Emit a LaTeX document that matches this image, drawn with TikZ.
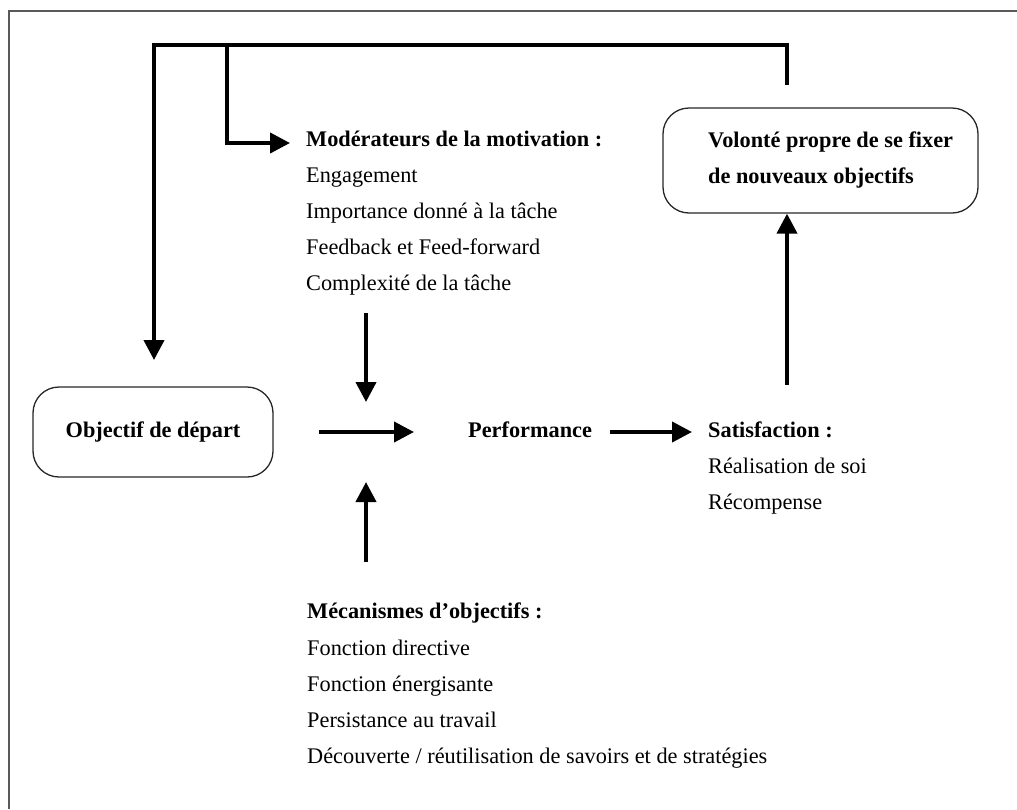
\documentclass[tikz,border=0pt]{standalone}
\usepackage{fontspec}
\setmainfont{Liberation Serif}
\usetikzlibrary{arrows.meta}
\begin{document}
\begin{tikzpicture}[x=1pt,y=-1pt,
  arr/.style={line width=4pt,-{Triangle[length=20pt,width=20pt]}},
  roundbox/.style={draw=black!85,line width=1.3pt,rounded corners=26pt},
  txt/.style={anchor=base west,inner sep=0pt,font=\fontsize{22.3}{36}\selectfont},
  hd/.style={anchor=base west,inner sep=0pt,font=\bfseries\fontsize{22.3}{36}\selectfont}]
\useasboundingbox (0,0) rectangle (1017,809);
% frame
\draw[black!65,line width=1.6pt] (9,809) -- (9,11) -- (1017,11);

% boxes
\node[roundbox,minimum width=240pt,minimum height=90pt,font=\bfseries\fontsize{22.3}{36}\selectfont] (obj) at (153,432) {Objectif de départ};
\node[roundbox,minimum width=315pt,minimum height=105pt] (vol) at (820.5,160.5) {};
\node[hd] (vol1) at (708,147) {Volonté propre de se fixer};
\node[hd] (vol2) at (708,183) {de nouveaux objectifs};

% moderators
\node[hd] (mod0) at (306,146) {Modérateurs de la motivation :};
\node[txt] (mod1) at (306,182) {Engagement};
\node[txt] (mod2) at (306,218) {Importance donné à la tâche};
\node[txt] (mod3) at (306,254) {Feedback et Feed-forward};
\node[txt] (mod4) at (306,290) {Complexité de la tâche};

% performance
\node[hd] (perf) at (468,437) {Performance};

% satisfaction
\node[hd] (sat0) at (708,437) {Satisfaction :};
\node[txt] (sat1) at (708,473) {Réalisation de soi};
\node[txt] (sat2) at (708,509) {Récompense};

% mechanisms
\node[hd] (mec0) at (307,618) {Mécanismes d’objectifs :};
\node[txt] (mec1) at (307,655) {Fonction directive};
\node[txt] (mec2) at (307,691) {Fonction énergisante};
\node[txt] (mec3) at (307,727) {Persistance au travail};
\node[txt] (mec4) at (307,763) {Découverte / réutilisation de savoirs et de stratégies};

% coordinates for connector ends
\coordinate (fbstart) at (787,85);
\coordinate (fbright) at (787,45);
\coordinate (fbleft) at (154,45);
\coordinate (fbend) at (154,360);
\coordinate (brtop) at (227,45);
\coordinate (brcorner) at (227,143);
\coordinate (brend) at (290,143);
\coordinate (moddown1) at (366,313);
\coordinate (moddown2) at (366,402);
\coordinate (mecup1) at (366,562);
\coordinate (mecup2) at (366,482);
\coordinate (h1a) at (319,432);
\coordinate (h1b) at (414,432);
\coordinate (h2a) at (610,432);
\coordinate (h2b) at (692,432);
\coordinate (satup) at (787,385);

% connectors
\draw[arr] (fbstart) -- (fbright) -- (fbleft) -- (fbend);
\draw[arr] (brtop) -- (brcorner) -- (brend);
\draw[arr] (moddown1) -- (moddown2);
\draw[arr] (mecup1) -- (mecup2);
\draw[arr] (h1a) -- (h1b);
\draw[arr] (h2a) -- (h2b);
\draw[arr] (satup) -- (vol.south -| satup);
\end{tikzpicture}
\end{document}
